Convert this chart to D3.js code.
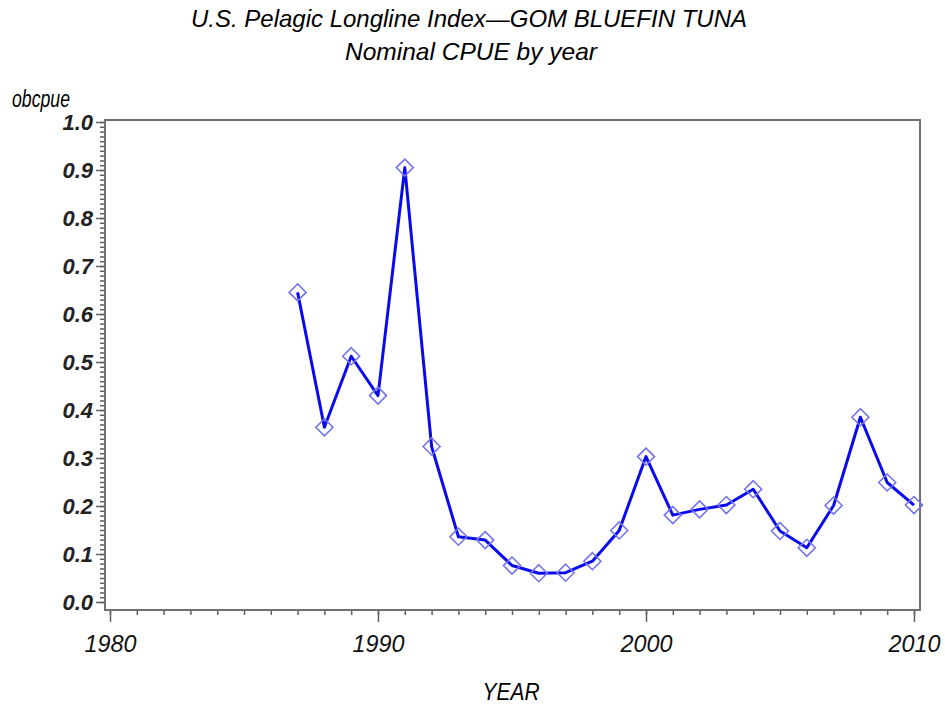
<!DOCTYPE html>
<html lang="en">
<head>
  <meta charset="UTF-8" />
  <title>GOM Bluefin Tuna Nominal CPUE</title>
  <style>
    body {
      margin: 0;
      padding: 0;
      background: #fff;
    }
    svg {
      display: block;
      font-family: "Liberation Sans", Arial, sans-serif;
    }
    .frame {
      fill: none;
      stroke: #707070;
      stroke-width: 2;
    }
    .axis path {
      display: none;
    }
    .axis line {
      stroke: #606060;
      stroke-width: 1.5;
    }
  </style>
</head>
<body>
  <svg id="chart" width="945" height="707"></svg>

  <script src="https://d3js.org/d3.v7.min.js"></script>
  <script>
    // values
    const years = [1987, 1988, 1989, 1990, 1991, 1992, 1993, 1994, 1995, 1996, 1997, 1998,
                   1999, 2000, 2001, 2002, 2003, 2004, 2005, 2006, 2007, 2008, 2009, 2010];
    const obcpue = [0.645, 0.364, 0.512, 0.430, 0.905, 0.324, 0.136, 0.129, 0.076, 0.060, 0.061, 0.085,
                    0.149, 0.303, 0.181, 0.193, 0.202, 0.235, 0.148, 0.113, 0.201, 0.385, 0.249, 0.202];
    const xTicks = [1980, 1990, 2000, 2010];
    const yTicks = [0, 0.1, 0.2, 0.3, 0.4, 0.5, 0.6, 0.7, 0.8, 0.9, 1.0];

    const svg = d3.select("#chart");
    const frame = { left: 105, right: 920, top: 120, bottom: 610 };

    const x = d3.scaleLinear().domain([1980, 2010]).range([110, 914]);
    const y = d3.scaleLinear().domain([0, 1]).range([602, 122]);

    // titles (the original font is tall and narrow, so squeeze to its width)
    svg.append("text")
      .attr("x", 469).attr("y", 27)
      .attr("text-anchor", "middle")
      .attr("font-size", 24)
      .attr("font-style", "italic")
      .attr("textLength", 556)
      .attr("lengthAdjust", "spacingAndGlyphs")
      .text("U.S. Pelagic Longline Index\u2014GOM BLUEFIN TUNA");

    svg.append("text")
      .attr("x", 471).attr("y", 60)
      .attr("text-anchor", "middle")
      .attr("font-size", 24)
      .attr("font-style", "italic")
      .attr("textLength", 252)
      .attr("lengthAdjust", "spacingAndGlyphs")
      .text("Nominal CPUE by year");

    // minor y ticks every 0.01
    svg.append("g")
      .attr("class", "axis")
      .attr("transform", `translate(${frame.left},0)`)
      .call(d3.axisLeft(y).tickValues(d3.range(0, 101).map(d => d / 100)).tickSize(5).tickFormat(""));

    // major y ticks
    svg.append("g")
      .attr("class", "axis")
      .attr("transform", `translate(${frame.left},0)`)
      .call(d3.axisLeft(y).tickValues(yTicks).tickSize(9).tickPadding(3).tickFormat(d3.format(".1f")))
      .call(g => g.selectAll("text")
        .attr("font-size", 22)
        .attr("font-style", "italic")
        .attr("font-weight", "bold")
        .attr("fill", "#222")
        .attr("dy", "0.36em")
        .style("font-family", "'Liberation Sans', Arial, sans-serif"));

    // minor x ticks every year
    svg.append("g")
      .attr("class", "axis")
      .attr("transform", `translate(0,${frame.bottom})`)
      .call(d3.axisBottom(x).tickValues(d3.range(1980, 2011)).tickSize(5).tickFormat(""));

    // major x ticks
    svg.append("g")
      .attr("class", "axis")
      .attr("transform", `translate(0,${frame.bottom})`)
      .call(d3.axisBottom(x).tickValues(xTicks).tickSize(12).tickPadding(13).tickFormat(d3.format("d")))
      .call(g => g.selectAll("text")
        .attr("font-size", 24)
        .attr("font-style", "italic")
        .attr("fill", "#111")
        .attr("textLength", 52)
        .attr("lengthAdjust", "spacingAndGlyphs")
        .style("font-family", "'Liberation Sans', Arial, sans-serif"));

    // frame
    svg.append("rect")
      .attr("class", "frame")
      .attr("x", frame.left).attr("y", frame.top)
      .attr("width", frame.right - frame.left)
      .attr("height", frame.bottom - frame.top);

    // axis labels
    svg.append("text")
      .attr("x", 12).attr("y", 107)
      .attr("font-size", 23)
      .attr("font-style", "italic")
      .attr("textLength", 58)
      .attr("lengthAdjust", "spacingAndGlyphs")
      .text("obcpue");

    svg.append("text")
      .attr("x", 511).attr("y", 700)
      .attr("text-anchor", "middle")
      .attr("font-size", 23)
      .attr("font-style", "italic")
      .attr("textLength", 57)
      .attr("lengthAdjust", "spacingAndGlyphs")
      .text("YEAR");

    const data = years.map((yr, i) => ({ year: yr, v: obcpue[i] }));

    // series line
    svg.append("path")
      .datum(data)
      .attr("fill", "none")
      .attr("stroke", "#0a0aee")
      .attr("stroke-width", 3)
      .attr("stroke-linejoin", "round")
      .attr("d", d3.line().x(d => x(d.year)).y(d => y(d.v)));

    // diamond markers
    svg.append("g")
      .selectAll("path")
      .data(data)
      .join("path")
      .attr("transform", d => `translate(${x(d.year)},${y(d.v)})`)
      .attr("d", "M0,-8.5L8.5,0L0,8.5L-8.5,0Z")
      .attr("fill", "none")
      .attr("stroke", "#7474ee")
      .attr("stroke-width", 1.6);
  </script>
</body>
</html>
